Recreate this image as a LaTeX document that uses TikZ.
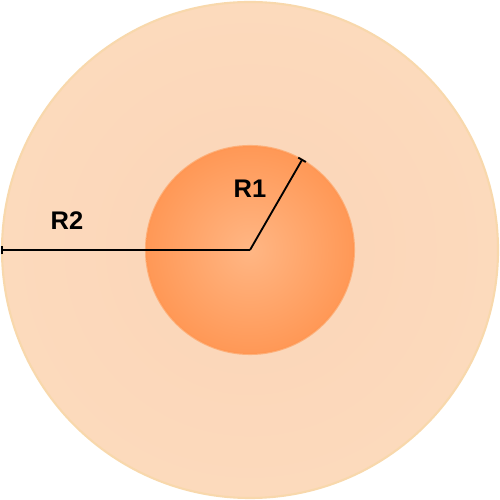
\documentclass[tikz,border=0pt]{standalone}
\usepackage{fontspec}
\setmainfont{Liberation Sans}
\usepackage{xcolor}
\usetikzlibrary{arrows.meta, positioning}

\definecolor{shellin}{RGB}{251,212,184}
\definecolor{shellout}{RGB}{252,218,188}
\definecolor{shellline}{RGB}{248,216,172}
\definecolor{corein}{RGB}{255,182,132}
\definecolor{coreout}{RGB}{255,152,86}
\definecolor{coreline}{RGB}{255,150,80}

\begin{document}
\begin{tikzpicture}[
    font=\fontsize{14.5}{16}\selectfont\bfseries,
    shell/.style={
        circle,
        draw=shellline,
        line width=1.2pt,
        inner color=shellin,
        outer color=shellout,
        minimum size=9.92cm
    },
    core/.style={
        circle,
        draw=coreline,
        draw opacity=0.6,
        line width=1.2pt,
        inner color=corein,
        outer color=coreout,
        minimum size=4.16cm
    },
    radius/.style={draw, line width=1.05pt, -{Bar[width=5pt]}},
    lbl/.style={inner sep=0pt}
]
\useasboundingbox (0,0) rectangle (10,10);

\node[shell] (outer) at (5,5) {};
\node[core] (inner) at (5,5) {};

\node[lbl] (r2) at (1.34,5.58) {R2};
\node[lbl] (r1) at (5.0,6.22) {R1};

\draw[radius] (inner.center) -- (outer.west);
\draw[radius] (inner.center) -- (inner.60);

\end{tikzpicture}
\end{document}
